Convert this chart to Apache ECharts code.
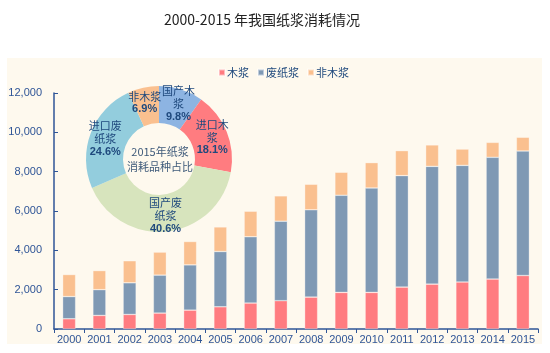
<!DOCTYPE html>
<html>
<head>
<meta charset="utf-8">
<script src="https://cdn.jsdelivr.net/npm/echarts@6/dist/echarts.min.js"></script>
<style>html,body{margin:0;padding:0;background:#fff;}#c{width:550px;height:353px;}</style>
</head>
<body>
<div id="c"></div>
<script>
var years = ['2000','2001','2002','2003','2004','2005','2006','2007','2008','2009','2010','2011','2012','2013','2014','2015'];
var woodPulp = [520,690,740,810,960,1130,1320,1440,1620,1860,1860,2130,2280,2390,2540,2720];
var wastePulp = [1130,1310,1610,1930,2300,2810,3370,4040,4440,4940,5310,5670,5990,5930,6190,6330];
var nonWoodPulp = [1120,970,1120,1170,1190,1250,1300,1290,1300,1170,1290,1270,1090,830,760,700];
var seriesNames = ['木浆','废纸浆','非木浆'];
var pieNames = ['国产木浆','进口木浆','国产废纸浆','进口废纸浆','非木浆'];
var pieLabels = ['国产木\n浆','进口木\n浆','国产废\n纸浆','进口废\n纸浆','非木浆'];
var pieValues = [9.8,18.1,40.6,24.6,6.9];
var yTicks = [0,2000,4000,6000,8000,10000,12000];

var chart = echarts.init(document.getElementById('c'));
var axisBlue = '#2F5597';
var cjk = '"Noto Sans CJK SC", sans-serif';
var pieColors = ['#8DB4E2','#FF7C80','#D7E4BD','#93CDDD','#FAC08F'];
var labelOffsets = [[2,0],[0,0],[0,0],[0,0],[-2,0]];
var pieData = pieNames.map(function(n,i){
  return {name:n, value:pieValues[i], itemStyle:{color:pieColors[i]},
    label:{offset:labelOffsets[i], formatter:'{t|'+pieLabels[i]+'}\n{p|'+pieValues[i].toFixed(1)+'%}'}};
});
function fmt(v){return String(v).replace(/\B(?=(\d{3})+(?!\d))/g, ',');}
chart.setOption({
  animation:false,
  backgroundColor:'#ffffff',
  title:{text:'2000-2015 年我国纸浆消耗情况', left:257, top:8, textAlign:'center',
    textStyle:{fontFamily:cjk, fontSize:14, fontWeight:'normal', color:'#222'}},
  graphic:[
    {type:'rect', shape:{x:7,y:58,width:535,height:286}, style:{fill:'#FEF9EE'}, z:-10, silent:true},
    {type:'text', x:160, y:159.5, z:100, style:{text:'2015年纸浆\n消耗品种占比', fill:'#3E5A7A', font:'11px "Noto Sans CJK SC"', textAlign:'center', textVerticalAlign:'middle', lineHeight:15}}
  ],
  legend:{data:seriesNames, left:213, top:62, icon:'rect', itemWidth:6, itemHeight:6, itemGap:8,
    textStyle:{fontFamily:cjk, fontSize:11, color:'#1F497D', padding:[0,0,0,-3]}},
  grid:{left:54, right:12, top:93, bottom:24, containLabel:false},
  xAxis:{type:'category', data:years,
    axisLine:{lineStyle:{color:axisBlue, width:1.5}},
    axisTick:{show:true, length:4, lineStyle:{color:axisBlue}},
    axisLabel:{interval:0, color:axisBlue, fontFamily:'Arial, "Liberation Sans"', fontSize:11, margin:5}},
  yAxis:{type:'value', min:0, max:12000, interval:2000,
    axisLine:{show:true, lineStyle:{color:axisBlue, width:1.5}},
    axisTick:{show:true, inside:true, length:4, lineStyle:{color:axisBlue}},
    splitLine:{show:false},
    axisLabel:{color:axisBlue, fontFamily:'Arial, "Liberation Sans"', fontSize:11, margin:12, formatter:function(v){return fmt(v);}}},
  series:[
    {name:seriesNames[0], type:'bar', stack:'s', data:woodPulp, barWidth:13, itemStyle:{color:'#FF7C80', borderColor:'rgba(255,255,255,0.5)', borderWidth:0.6}},
    {name:seriesNames[1], type:'bar', stack:'s', data:wastePulp, barWidth:13, itemStyle:{color:'#7F99B4', borderColor:'rgba(255,255,255,0.5)', borderWidth:0.6}},
    {name:seriesNames[2], type:'bar', stack:'s', data:nonWoodPulp, barWidth:13, itemStyle:{color:'#FAC08F', borderColor:'rgba(255,255,255,0.5)', borderWidth:0.6}},
    {name:'2015', type:'pie', center:[159,159], radius:[36,73], startAngle:90, clockwise:true, z:5,
      avoidLabelOverlap:false,
      labelLayout:{hideOverlap:false},
      data:pieData,
      label:{show:true, position:'inside',
        rich:{t:{fontFamily:cjk, fontSize:11, color:'#1F497D', lineHeight:13},
              p:{fontFamily:'Arial, "Liberation Sans"', fontSize:11, fontWeight:'bold', color:'#1F497D', lineHeight:13}}},
      labelLine:{show:false}, emphasis:{disabled:true}}
  ]
});
</script>
</body>
</html>
